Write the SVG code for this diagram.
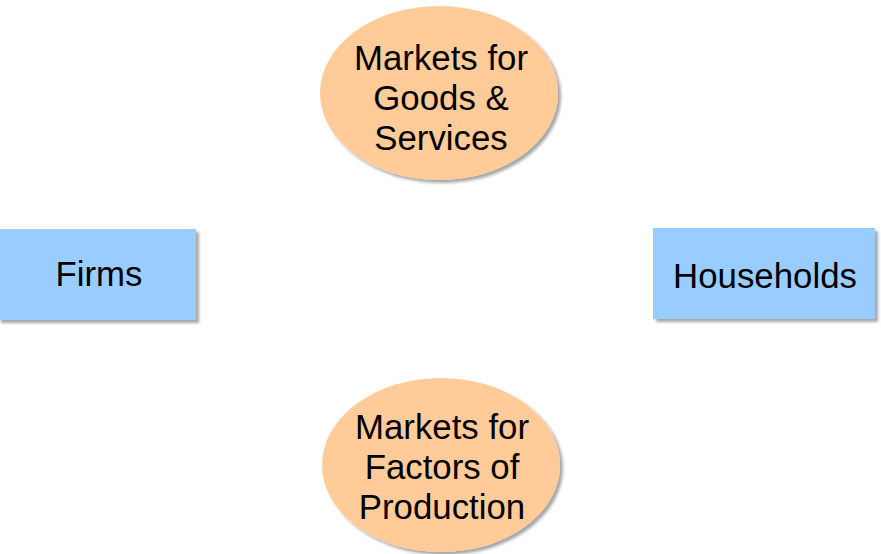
<svg xmlns="http://www.w3.org/2000/svg" width="881" height="554" viewBox="0 0 881 554">
<defs>
<filter id="sh" x="-10%" y="-10%" width="125%" height="125%">
<feDropShadow dx="3" dy="3" stdDeviation="1.5" flood-color="#000" flood-opacity="0.35"/>
</filter>
<style>
.box{fill:#99CCFF;filter:url(#sh)}
.ell{fill:#FFCC99;filter:url(#sh)}
text{font-family:"Liberation Sans",Arial,sans-serif;font-size:34.8px;fill:#000;text-anchor:middle}
</style>
</defs>
<rect width="881" height="554" fill="#fff"/>
<g id="connectors"></g>
<g id="goods-market">
<ellipse class="ell" cx="439" cy="93" rx="119" ry="87"/>
<text x="441" y="70">Markets for</text>
<text x="441" y="110">Goods &amp;</text>
<text x="441" y="150">Services</text>
</g>
<g id="firms">
<rect class="box" x="-2" y="229" width="198" height="91"/>
<text x="99" y="286">Firms</text>
</g>
<g id="households">
<rect class="box" x="653" y="228" width="222" height="91"/>
<text x="765" y="288">Households</text>
</g>
<g id="factor-market">
<ellipse class="ell" cx="441" cy="465" rx="119" ry="87"/>
<text x="442" y="439">Markets for</text>
<text x="442" y="479">Factors of</text>
<text x="442" y="519">Production</text>
</g>
</svg>
